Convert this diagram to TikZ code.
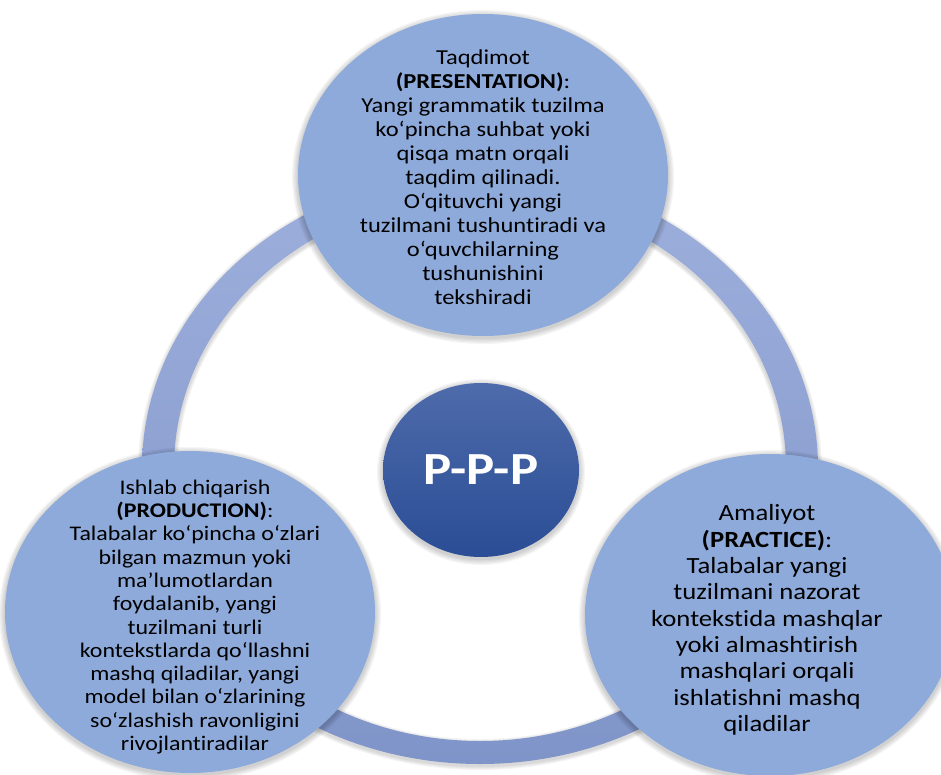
\documentclass[tikz,border=0pt]{standalone}
\usepackage{fontspec}
\setmainfont{Carlito}[FakeStretch=1.15, Ligatures={NoCommon}]
\usetikzlibrary{shapes.geometric}
\definecolor{circ}{HTML}{8EAADB}
\definecolor{ringtop}{HTML}{9DAFDC}
\definecolor{ringbot}{HTML}{7F94C8}
\definecolor{ctop}{HTML}{4E6BAB}
\definecolor{cbot}{HTML}{2A4D95}
\tikzset{
  bigcirc/.style={ellipse, minimum width=370pt, minimum height=322pt, inner sep=0pt, fill=circ},
  hubcirc/.style={ellipse, minimum width=196pt, minimum height=174pt, inner sep=0pt,
     top color=ctop, bottom color=cbot, text=white, font=\bfseries\fontsize{46}{50}\selectfont},
  bodytext/.style={align=center, text=black},
  shadowlayer/.style={fill=black, opacity=0.04}
}
\begin{document}
\begin{tikzpicture}[x=1pt,y=-1pt]
\useasboundingbox (0,0) rectangle (941,775);
% ring shadow
\foreach \k in {1,...,4}{
  \fill[shadowlayer, even odd rule] (480,470) ellipse [x radius=338+\k, y radius=296+\k]
        (480,470) ellipse [x radius=306-\k, y radius=273-\k];
}
% ring
\shade[top color=ringtop, bottom color=ringbot, even odd rule]
  (480,468) ellipse [x radius=338, y radius=296]
  (480,468) ellipse [x radius=306, y radius=273];
% shadows of circles
\foreach \cx/\cy in {483/175, 190/612, 770/615}{
  \foreach \k in {1,...,5}{
    \fill[shadowlayer] (\cx,\cy+2) ellipse [x radius=185+1.2*\k, y radius=161+1.2*\k];
  }
}
\foreach \k in {1,...,5}{
  \fill[shadowlayer] (481,472) ellipse [x radius=98+1.2*\k, y radius=87+1.2*\k];
}
% hub
\node[hubcirc] (ppp) at (481,470) {P-P-P};
% three stage circles
\node[bigcirc] (pres) at (483,175) {};
\node[bigcirc] (prod) at (190,612) {};
\node[bigcirc] (prac) at (770,615) {};
% texts
\node[bodytext, font=\fontsize{21.3}{24}\selectfont] (presT) at (483,177) {Taqdimot\\
\textbf{(PRESENTATION)}:\\
Yangi grammatik tuzilma\\
ko‘pincha suhbat yoki\\
qisqa matn orqali\\
taqdim qilinadi.\\
O‘qituvchi yangi\\
tuzilmani tushuntiradi va\\
o‘quvchilarning\\
tushunishini\\
tekshiradi};
\node[bodytext, font=\fontsize{20.8}{23.3}\selectfont] (prodT) at (195,617) {Ishlab chiqarish\\
\textbf{(PRODUCTION)}:\\
Talabalar ko‘pincha o‘zlari\\
bilgan mazmun yoki\\
ma’lumotlardan\\
foydalanib, yangi\\
tuzilmani turli\\
kontekstlarda qo‘llashni\\
mashq qiladilar, yangi\\
model bilan o‘zlarining\\
so‘zlashish ravonligini\\
rivojlantiradilar};
\node[bodytext, font=\fontsize{23.2}{26.3}\selectfont] (pracT) at (767,620) {Amaliyot\\
\textbf{(PRACTICE)}:\\
Talabalar yangi\\
tuzilmani nazorat\\
kontekstida mashqlar\\
yoki almashtirish\\
mashqlari orqali\\
ishlatishni mashq\\
qiladilar};
\end{tikzpicture}
\end{document}
